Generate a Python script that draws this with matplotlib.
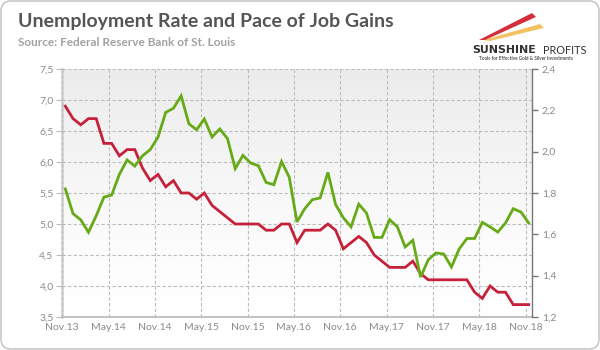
import matplotlib
matplotlib.use('Agg')
import matplotlib.pyplot as plt
import numpy as np
from matplotlib.colors import LinearSegmentedColormap
from matplotlib.patches import FancyBboxPatch, Polygon
from matplotlib.ticker import FuncFormatter, FixedLocator

plt.rcParams['font.family'] = ['Lato', 'DejaVu Sans']

# monthly data, Nov 2013 .. Nov 2018
tick_labels = ['Nov.13', 'May.14', 'Nov.14', 'May.15', 'Nov.15', 'May.16',
               'Nov.16', 'May.17', 'Nov.17', 'May.18', 'Nov.18']
unemployment = [6.9, 6.7, 6.6, 6.7, 6.7, 6.3, 6.3, 6.1, 6.2, 6.2,
                5.9, 5.7, 5.8, 5.6, 5.7, 5.5, 5.5, 5.4, 5.5, 5.3,
                5.2, 5.1, 5.0, 5.0, 5.0, 5.0, 4.9, 4.9, 5.0, 5.0,
                4.7, 4.9, 4.9, 4.9, 5.0, 4.9, 4.6, 4.7, 4.8, 4.7,
                4.5, 4.4, 4.3, 4.3, 4.3, 4.4, 4.2, 4.1, 4.1, 4.1,
                4.1, 4.1, 4.1, 3.9, 3.8, 4.0, 3.9, 3.9, 3.7, 3.7, 3.7]
job_gains = [1.82, 1.70, 1.67, 1.61, 1.69, 1.78, 1.79, 1.89, 1.96, 1.93,
             1.98, 2.01, 2.07, 2.19, 2.21, 2.27, 2.135, 2.106, 2.158, 2.071,
             2.11, 2.063, 1.918, 1.982, 1.945, 1.932, 1.851, 1.84, 1.952, 1.876,
             1.66, 1.724, 1.768, 1.776, 1.90, 1.744, 1.68, 1.636, 1.746, 1.703,
             1.585, 1.585, 1.671, 1.636, 1.539, 1.571, 1.393, 1.477, 1.51, 1.505,
             1.442, 1.529, 1.58, 1.58, 1.658, 1.636, 1.611, 1.655, 1.724, 1.708, 1.655]

RED = '#c5213a'
GREEN = '#67aa18'
GRID = '#bcbcbc'
LABEL = '#8a8a8a'


def comma(v, pos):
    return f'{v:.1f}'.replace('.', ',')


W, H = 600, 350
fig = plt.figure(figsize=(W / 100, H / 100), dpi=100)

# rounded frame
frame = FancyBboxPatch((0.01, 0.01), W / 100 - 0.02, H / 100 - 0.02,
                       boxstyle='round,pad=0,rounding_size=0.1',
                       transform=fig.dpi_scale_trans, facecolor='white',
                       edgecolor='#c8c8c8', linewidth=1.2, zorder=0)
fig.patches.append(frame)

ax = fig.add_axes([62 / W, 1 - 317 / H, 470 / W, 248 / H])
ax.set_zorder(1)
x = np.arange(len(unemployment))

# grey-to-white background gradient
cmap = LinearSegmentedColormap.from_list('bg', [(0, '#ffffff'), (0.3, '#fcfcfc'), (1, '#ececec')])
ax.imshow(np.linspace(0, 1, 256).reshape(-1, 1), extent=[0, 1, 0, 1],
          transform=ax.transAxes, cmap=cmap, aspect='auto', origin='lower',
          zorder=0)

ax.plot(x, unemployment, color=RED, lw=2.0, zorder=3, solid_joinstyle='miter')
ax.set_xlim(-0.43, 60.43)
ax.set_ylim(3.5, 7.5)
ax.yaxis.set_major_locator(FixedLocator(np.arange(3.5, 7.51, 0.5)))
ax.yaxis.set_major_formatter(FuncFormatter(comma))
ax.set_xticks([6 * k - 0.4 for k in range(len(tick_labels))])
ax.set_xticklabels(tick_labels)
ax.grid(True, color=GRID, linestyle=(0, (3, 2)), linewidth=0.8, zorder=1)
ax.set_axisbelow(False)
for gl in ax.get_xgridlines() + ax.get_ygridlines():
    gl.set_zorder(1)

ax.spines['top'].set_visible(False)
ax.spines['right'].set_visible(False)
ax.spines['left'].set_color('#d4d4d4')
ax.spines['left'].set_linewidth(2)
ax.spines['bottom'].set_color('#c4c4c4')
ax.spines['bottom'].set_linewidth(1.5)
ax.tick_params(axis='y', colors='#bbbbbb', labelcolor=LABEL, labelsize=7.5,
               length=4, width=0.8, pad=2)
ax.tick_params(axis='x', colors='#bbbbbb', labelcolor=LABEL, labelsize=7.5,
               length=0, pad=4)

ax2 = ax.twinx()
ax2.plot(x, job_gains, color=GREEN, lw=2.0, zorder=3, solid_joinstyle='miter')
ax2.set_ylim(1.2, 2.4)
ax2.yaxis.set_major_locator(FixedLocator(np.arange(1.2, 2.41, 0.2)))
ax2.yaxis.set_major_formatter(FuncFormatter(comma))
for side in ['top', 'left', 'bottom']:
    ax2.spines[side].set_visible(False)
ax2.spines['right'].set_color('#777777')
ax2.spines['right'].set_linewidth(1)
ax2.tick_params(axis='y', colors='#777777', labelcolor=LABEL, labelsize=7.5,
                length=4, width=1, pad=3)

# titles
fig.text(18 / W, 1 - 22 / H, 'Unemployment Rate and Pace of Job Gains',
         fontsize=14, fontweight='bold', color='#555555', va='center')
fig.text(18 / W, 1 - 43 / H, 'Source: Federal Reserve Bank of St. Louis',
         fontsize=8.5, fontweight='bold', color='#a2a2a2', va='center')

# logo
def px(pts):
    return [(a / W, 1 - b / H) for a, b in pts]


fig.patches.append(Polygon(px([(483, 40), (540, 24), (544, 28), (490, 41)]),
                           closed=True, transform=fig.transFigure,
                           facecolor='#f2b33d', edgecolor='none', alpha=0.8))
fig.patches.append(Polygon(px([(479, 40), (532, 13), (536, 17), (485, 40)]),
                           closed=True, transform=fig.transFigure,
                           facecolor='#d22f3a', edgecolor='none'))
fig.text(472 / W, 1 - 50 / H, 'SUNSHINE', fontsize=7.9, fontweight='bold',
         color='#333333', va='center', ha='left', family='DejaVu Sans')
fig.text(543 / W, 1 - 50 / H, 'PROFITS', fontsize=7.8, color='#333333',
         va='center', ha='left')
fig.text(526 / W, 1 - 58.5 / H, 'Tools for Effective Gold & Silver Investments',
         fontsize=3.4, fontweight='bold', color='#555555', va='center', ha='center')

fig.savefig('out.png', dpi=100)
